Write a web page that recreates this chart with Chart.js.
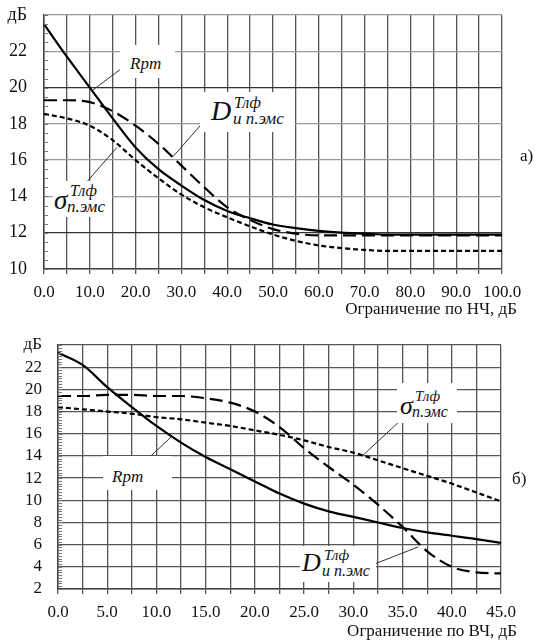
<!DOCTYPE html>
<html><head><meta charset="utf-8">
<script src="https://cdn.jsdelivr.net/npm/chart.js@4/dist/chart.umd.min.js"></script>
<style>
body{margin:0;background:#fff;width:537px;height:640px;position:relative;overflow:hidden;font-family:"Liberation Serif","Times New Roman",serif;color:#111;}
.cw{position:absolute;left:0;width:537px;height:320px;}
.box{position:absolute;background:#fff;z-index:2;}
.t{position:absolute;font-style:italic;line-height:1;white-space:nowrap;}
.plain{position:absolute;line-height:1;white-space:nowrap;z-index:2;}
</style>
</head><body>
<div class="cw" style="top:0"><canvas id="c1" width="537" height="320"></canvas></div>
<div class="cw" style="top:320px"><canvas id="c2" width="537" height="320"></canvas></div>

<!-- top chart labels -->
<div class="box" style="left:120px;top:45px;width:55px;height:33px;"><span class="t" style="left:10px;top:10px;font-size:17px;">Rpm</span></div>
<div class="box" style="left:200px;top:92px;width:95px;height:40px;"><span class="t" style="left:11px;top:5px;font-size:28px;">D</span><span class="t" style="left:34px;top:3px;font-size:16px;">Тлф</span><span class="t" style="left:33px;top:18px;font-size:17px;">и п.эмс</span></div>
<div class="box" style="left:53px;top:181px;width:59px;height:36px;"><span class="t" style="left:1px;top:6px;font-size:27px;">σ</span><span class="t" style="left:17px;top:2px;font-size:16px;">Тлф</span><span class="t" style="left:14px;top:17px;font-size:17px;">п.эмс</span></div>
<div class="plain" style="left:520px;top:147px;font-size:17px;">а)</div>
<div class="plain" style="right:20px;top:300px;font-size:17px;">Ограничение по НЧ, дБ</div>

<!-- bottom chart labels -->
<div class="box" style="left:103px;top:456px;width:69px;height:34px;"><span class="t" style="left:9px;top:12px;font-size:17px;">Rpm</span></div>
<div class="box" style="left:397px;top:383px;width:60px;height:40px;"><span class="t" style="left:3px;top:10px;font-size:26px;">σ</span><span class="t" style="left:18px;top:6px;font-size:15px;">Тлф</span><span class="t" style="left:15px;top:21px;font-size:16px;">п.эмс</span></div>
<div class="box" style="left:300px;top:546px;width:76px;height:36px;"><span class="t" style="left:2px;top:4px;font-size:26px;">D</span><span class="t" style="left:24px;top:2px;font-size:15px;">Тлф</span><span class="t" style="left:22px;top:17px;font-size:16px;">и п.эмс</span></div>
<div class="plain" style="left:512px;top:470px;font-size:17px;">б)</div>
<div class="plain" style="right:20px;top:622px;font-size:17px;">Ограничение по ВЧ, дБ</div>

<script>
// ---- top chart (a): limitation on LF, step 5 dB ----
const topX = ['0.0','','10.0','','20.0','','30.0','','40.0','','50.0','','60.0','','70.0','','80.0','','90.0','','100.0'];
const topYTicks = ['10','12','14','16','18','20','22','дБ'];
const topRpm = [23.5,21.7,20.0,18.3,16.7,15.5,14.6,13.8,13.2,12.8,12.45,12.25,12.1,12.0,11.95,11.9,11.9,11.9,11.9,11.9,11.9];
const topD   = [19.3,19.3,19.2,18.7,17.9,16.9,15.7,14.5,13.4,12.7,12.2,11.95,11.85,11.85,11.85,11.85,11.85,11.85,11.85,11.85,11.85];
const topSig = [18.55,18.3,17.9,17.1,16.0,15.0,14.1,13.4,12.85,12.35,11.9,11.55,11.3,11.15,11.05,11.0,11.0,11.0,11.0,11.0,11.0];

// ---- bottom chart (б): limitation on HF, step 2.5 dB ----
const botX = ['0.0','','5.0','','10.0','','15.0','','20.0','','25.0','','30.0','','35.0','','40.0','','45.0'];
const botYTicks = ['2','4','6','8','10','12','14','16','18','20','22','дБ'];
const botRpm = [23.3,22.2,20.2,18.4,16.7,15.2,13.9,12.8,11.7,10.6,9.7,9.0,8.5,8.0,7.5,7.1,6.8,6.5,6.15];
const botD   = [19.4,19.4,19.5,19.5,19.4,19.4,19.2,18.8,18.0,16.6,14.7,13.0,11.4,9.6,7.6,5.4,4.0,3.5,3.4];
const botSig = [18.4,18.2,18.0,17.8,17.5,17.3,17.0,16.7,16.3,15.9,15.4,14.8,14.3,13.6,12.9,12.2,11.5,10.7,9.9];

const FONT = '"Liberation Serif", "Times New Roman", serif';

const extras = {
  id: 'extras',
  afterDatasetsDraw(chart, args, opts) {
    const ctx = chart.ctx, x = chart.scales.x, y = chart.scales.y, ca = chart.chartArea;
    ctx.save();
    ctx.strokeStyle = '#777'; ctx.lineWidth = 1;
    for (let v = y.min; v <= y.max + 1e-9; v += opts.minor) {
      const py = Math.round(y.getPixelForValue(v)) + 0.5;
      ctx.beginPath(); ctx.moveTo(ca.left, py); ctx.lineTo(ca.left + 4, py); ctx.stroke();
    }
    ctx.strokeStyle = '#333'; ctx.lineWidth = 1;
    for (const l of opts.leaders) {
      ctx.beginPath();
      ctx.moveTo(x.getPixelForValue(l[0] / opts.xStep), y.getPixelForValue(l[1]));
      ctx.lineTo(x.getPixelForValue(l[2] / opts.xStep), y.getPixelForValue(l[3]));
      ctx.stroke();
    }
    ctx.restore();
  }
};

function makeChart(id, labels, yTicks, yMin, yMax, rpm, d, sig, cfg) {
  return new Chart(document.getElementById(id), {
    type: 'line',
    data: {
      labels: labels,
      datasets: [
        {data: rpm, borderColor: '#000', borderWidth: 2.2, pointRadius: 0, cubicInterpolationMode: 'monotone', fill: false},
        {data: d, borderColor: '#000', borderWidth: 2.2, borderDash: [13, 6], pointRadius: 0, cubicInterpolationMode: 'monotone', fill: false},
        {data: sig, borderColor: '#000', borderWidth: 2.2, borderDash: [5, 3], pointRadius: 0, cubicInterpolationMode: 'monotone', fill: false}
      ]
    },
    options: {
      responsive: false, animation: false, devicePixelRatio: 1,
      layout: {autoPadding: false, padding: {left: 0, right: cfg.padRight, top: cfg.padTop, bottom: 0}},
      plugins: {legend: {display: false}, tooltip: {enabled: false},
        extras: {minor: cfg.minor, leaders: cfg.leaders, xStep: cfg.xStep}},
      scales: {
        x: {
          type: 'category', offset: false,
          grid: {color: '#555', lineWidth: 1.3, drawTicks: true, tickLength: 5, tickColor: '#555'},
          border: {color: '#444', width: 1.5},
          ticks: {autoSkip: false, maxRotation: 0, padding: 8, color: '#111', font: {family: FONT, size: 17}},
          afterFit: s => { s.height = 51; }
        },
        y: {
          min: yMin, max: yMax,
          grid: {color: cfg.hGrid, lineWidth: 1.3, drawTicks: false},
          border: {color: '#444', width: 1.5},
          ticks: {stepSize: 2, autoSkip: false, padding: cfg.yPad, color: '#111', font: {family: FONT, size: cfg.ySize},
            callback: (v, i) => yTicks[i]},
          afterFit: s => { s.width = cfg.yWidth; s.paddingTop = 0; s.paddingBottom = 0; }
        }
      }
    },
    plugins: [extras]
  });
}

makeChart('c1', topX, topYTicks, 10, 24, topRpm, topD, topSig, {
  padRight: 35, padTop: 15, yWidth: 44, yPad: 17, ySize: 18, minor: 0.5, xStep: 5,
  hGrid: c => (c.tick && (c.tick.value === 20 || c.tick.value === 12)) ? '#333' : '#9a9a9a',
  leaders: [[10.5, 19.83, 17.7, 21.2], [28.2, 16.2, 36.9, 18.7], [9.0, 14.7, 15.9, 16.7]]
});
makeChart('c2', botX, botYTicks, 2, 24, botRpm, botD, botSig, {
  padRight: 36, padTop: 25, yWidth: 58, yPad: 16, ySize: 17, minor: 0.25, xStep: 2.5,
  hGrid: '#555',
  leaders: [[8.6, 13.3, 11.6, 15.8], [30.9, 14.0, 34.8, 17.2], [32.0, 4.2, 36.6, 5.8]]
});
</script>
</body></html>
